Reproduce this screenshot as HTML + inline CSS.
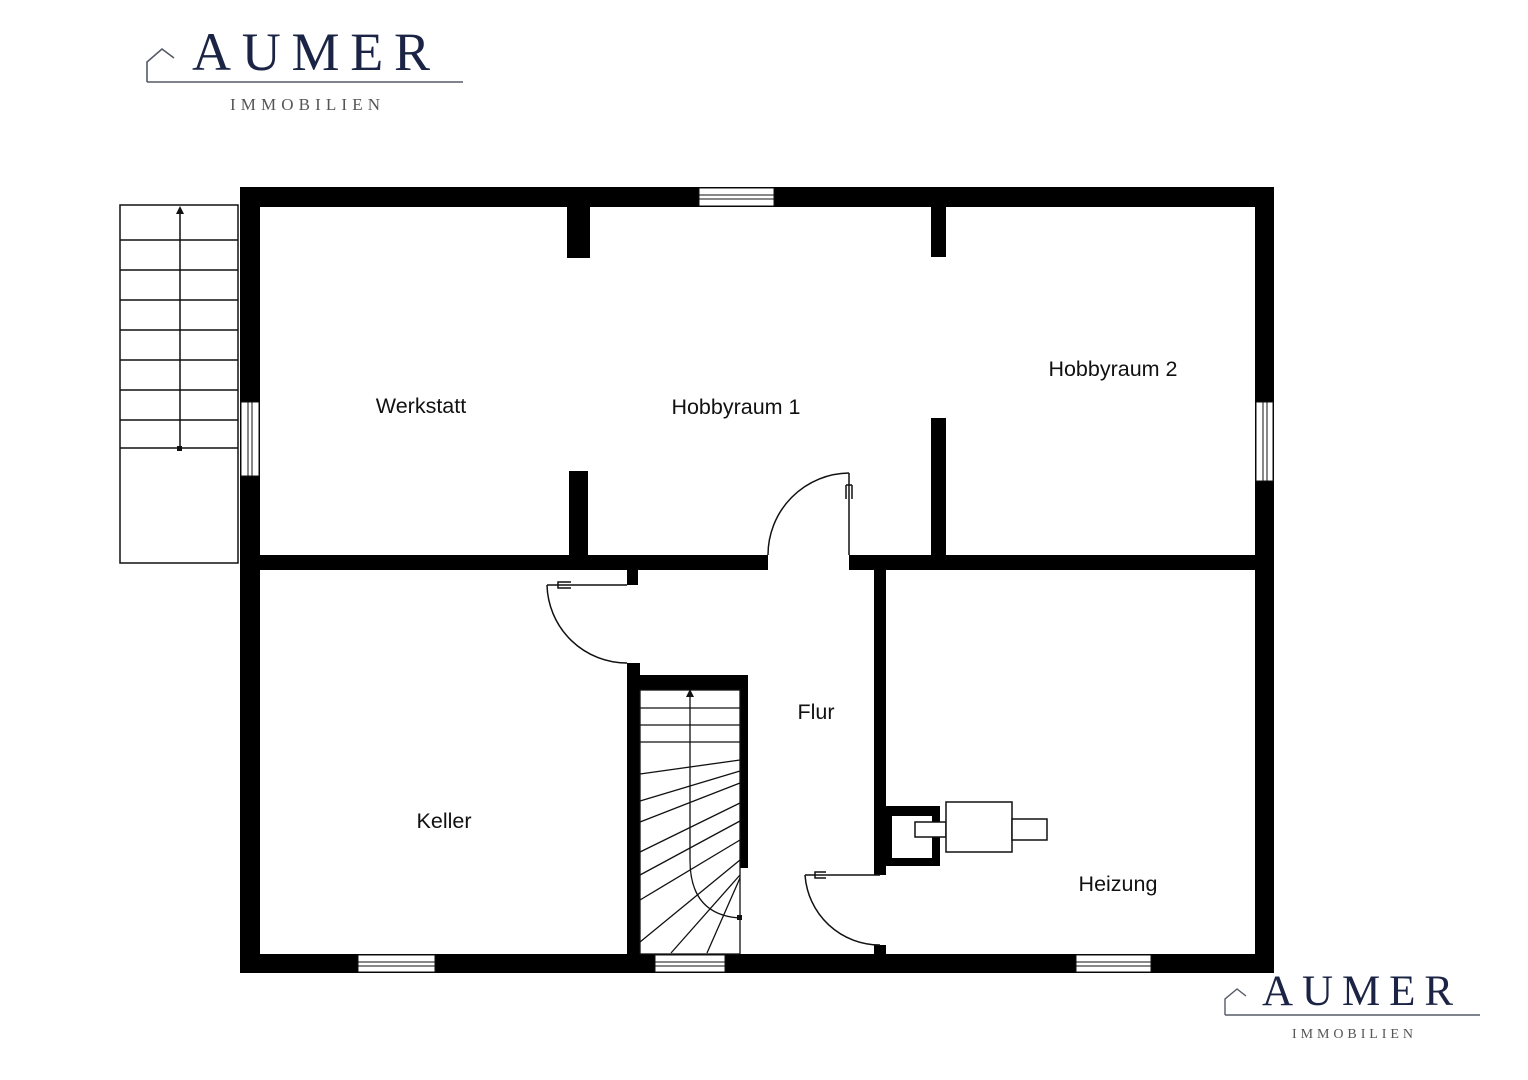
<!DOCTYPE html>
<html><head><meta charset="utf-8"><style>
html,body{margin:0;padding:0;background:#fff;width:1528px;height:1080px;overflow:hidden}
svg{display:block}
.t{font-family:"Liberation Sans",sans-serif;font-size:21.5px;fill:#111}
</style></head><body>
<svg width="1528" height="1080" viewBox="0 0 1528 1080" xmlns="http://www.w3.org/2000/svg">
<!-- Logo top -->
<g stroke="#555a66" stroke-width="1.6" fill="none">
<polyline points="147,82 147,62 162,49 174,58"/>
<line x1="147" y1="82" x2="463" y2="82"/>
</g>
<text x="192" y="70" font-family="Liberation Serif,serif" font-size="54" fill="#1b2444" textLength="238" lengthAdjust="spacing">AUMER</text>
<text x="230" y="110" font-family="Liberation Serif,serif" font-size="17" fill="#555" textLength="150" lengthAdjust="spacing">IMMOBILIEN</text>
<!-- Logo bottom -->
<g stroke="#555a66" stroke-width="1.4" fill="none">
<polyline points="1225,1015 1225,999 1237,989 1246,996"/>
<line x1="1225" y1="1015" x2="1480" y2="1015"/>
</g>
<text x="1262" y="1005" font-family="Liberation Serif,serif" font-size="43" fill="#1b2444" textLength="191" lengthAdjust="spacing">AUMER</text>
<text x="1292" y="1038" font-family="Liberation Serif,serif" font-size="14" fill="#555" textLength="121" lengthAdjust="spacing">IMMOBILIEN</text>

<!-- Left stairs -->
<g stroke="#111" stroke-width="1.5" fill="none">
<rect x="120" y="205" width="118" height="358"/>
<line x1="120" y1="240" x2="238" y2="240"/><line x1="120" y1="270" x2="238" y2="270"/>
<line x1="120" y1="300" x2="238" y2="300"/><line x1="120" y1="330" x2="238" y2="330"/>
<line x1="120" y1="360" x2="238" y2="360"/><line x1="120" y1="390" x2="238" y2="390"/>
<line x1="120" y1="420" x2="238" y2="420"/><line x1="120" y1="448" x2="238" y2="448"/>
<line x1="180" y1="448" x2="180" y2="212"/>
</g>
<polygon points="180,206 176,214 184,214" fill="#111"/>
<rect x="177" y="446" width="5" height="5" fill="#111"/>

<!-- Walls -->
<g fill="#000">
<rect x="240" y="187" width="1034" height="20"/>
<rect x="240" y="954" width="1034" height="19"/>
<rect x="240" y="187" width="20" height="786"/>
<rect x="1255" y="187" width="19" height="786"/>
<rect x="260" y="555" width="508" height="15"/>
<rect x="849" y="555" width="406" height="15"/>
<rect x="567" y="207" width="23" height="51"/>
<rect x="931" y="207" width="15" height="50"/>
<rect x="569" y="471" width="19" height="84"/>
<rect x="931" y="418" width="15" height="137"/>
<rect x="627" y="570" width="11" height="15"/>
<rect x="627" y="663" width="13" height="291"/>
<rect x="627" y="675" width="121" height="15"/>
<rect x="740" y="675" width="8" height="193"/>
<rect x="874" y="570" width="12" height="305"/>
<rect x="874" y="945" width="12" height="9"/>
<rect x="886" y="806" width="54" height="60"/>
</g>
<rect x="892" y="816" width="40" height="42" fill="#fff"/>

<!-- Windows -->
<g fill="#fff" stroke="#111" stroke-width="1">
<rect x="699" y="188" width="75" height="18"/>
<rect x="358" y="955" width="77" height="17"/>
<rect x="655" y="955" width="70" height="17"/>
<rect x="1076" y="955" width="75" height="17"/>
<rect x="241" y="402" width="18" height="74"/>
<rect x="1256" y="402" width="17" height="79"/>
</g>
<g stroke="#111" stroke-width="1">
<line x1="699" y1="195" x2="774" y2="195"/><line x1="699" y1="199" x2="774" y2="199"/>
<line x1="358" y1="962" x2="435" y2="962"/><line x1="358" y1="966" x2="435" y2="966"/>
<line x1="655" y1="962" x2="725" y2="962"/><line x1="655" y1="966" x2="725" y2="966"/>
<line x1="1076" y1="962" x2="1151" y2="962"/><line x1="1076" y1="966" x2="1151" y2="966"/>
<line x1="248" y1="402" x2="248" y2="476"/><line x1="252" y1="402" x2="252" y2="476"/>
<line x1="1263" y1="402" x2="1263" y2="481"/><line x1="1267" y1="402" x2="1267" y2="481"/>
</g>

<!-- Doors -->
<g stroke="#111" stroke-width="1.5" fill="none">
<line x1="849" y1="473" x2="849" y2="555"/>
<path d="M849,473 A82,82 0 0 0 768,555"/>
<path d="M846,485 v14 M852,485 v14 M846,485 h6"/>
<line x1="547" y1="585" x2="627" y2="585"/>
<path d="M547,585 A80,80 0 0 0 627,663"/>
<path d="M571,582 h-13 v6 h13"/>
<line x1="805" y1="875" x2="880" y2="875"/>
<path d="M805,875 A75,75 0 0 0 880,945"/>
<path d="M826,872 h-11 v6 h11"/>
</g>

<!-- Central stairs -->
<g stroke="#111" stroke-width="1.3" fill="none">
<rect x="640" y="690" width="100" height="264"/>
<line x1="640" y1="708" x2="740" y2="708"/>
<line x1="640" y1="725" x2="740" y2="725"/>
<line x1="640" y1="742" x2="740" y2="742"/>
<line x1="640" y1="774" x2="740" y2="760"/>
<line x1="640" y1="801" x2="740" y2="771"/>
<line x1="640" y1="822" x2="740" y2="783"/>
<line x1="640" y1="852" x2="740" y2="803"/>
<line x1="640" y1="875" x2="740" y2="821"/>
<line x1="640" y1="900" x2="740" y2="840"/>
<line x1="640" y1="942" x2="740" y2="860"/>
<line x1="671" y1="953" x2="740" y2="875"/>
<line x1="707" y1="953" x2="740" y2="878"/>
<path d="M740,918 Q690,915 690,860 L690,696"/>
</g>
<polygon points="690,689 686,697 694,697" fill="#111"/>
<rect x="737" y="915" width="5" height="5" fill="#111"/>

<!-- Heater -->
<g fill="#fff" stroke="#111" stroke-width="1.5">
<rect x="915" y="822" width="31" height="15"/>
<rect x="946" y="802" width="66" height="50"/>
<rect x="1012" y="819" width="35" height="21"/>
</g>

<!-- Labels -->
<text class="t" x="421" y="413" text-anchor="middle">Werkstatt</text>
<text class="t" x="736" y="414" text-anchor="middle">Hobbyraum 1</text>
<text class="t" x="1113" y="376" text-anchor="middle">Hobbyraum 2</text>
<text class="t" x="816" y="719" text-anchor="middle">Flur</text>
<text class="t" x="444" y="828" text-anchor="middle">Keller</text>
<text class="t" x="1118" y="891" text-anchor="middle">Heizung</text>
</svg>
</body></html>
